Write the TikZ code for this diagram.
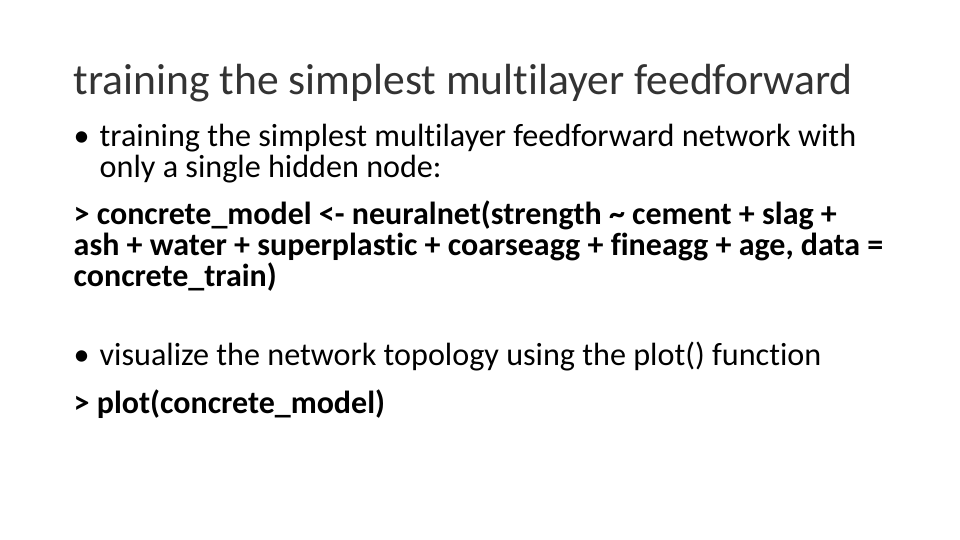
\documentclass[tikz,border=0pt]{standalone}
\usepackage{fontspec}
\setmainfont[Ligatures=NoCommon]{Carlito}
\begin{document}
\begin{tikzpicture}[x=1pt,y=-1pt,
  ln/.style={anchor=base west,inner sep=0pt,font=\fontsize{9.15pt}{11pt}\selectfont},
  bl/.style={ln,font=\fontsize{9.1pt}{11pt}\selectfont\bfseries},
  ttl/.style={anchor=base west,inner sep=0pt,font=\fontsize{12.4pt}{14pt}\selectfont,text=black!80}]
\useasboundingbox[fill=white] (0,0) rectangle (273.1,153.6);
\def\px#1{#1*0.2845}
\node[ttl] (t) at (\px{73},\px{94}) {training the simplest multilayer feedforward};
\node[ln] (b1) at (\px{73},\px{146}) {•};
\node[ln] (l1) at (\px{99},\px{146}) {training the simplest multilayer feedforward network with};
\node[ln] (l2) at (\px{99},\px{177}) {only a single hidden node:};
\node[bl] (l3) at (\px{73},\px{224}) {> concrete\_model <- neuralnet(strength \textasciitilde{} cement + slag +};
\node[bl] (l4) at (\px{73},\px{255}) {ash + water + superplastic + coarseagg + fineagg + age, data =};
\node[bl] (l5) at (\px{73},\px{286}) {concrete\_train)};
\node[ln] (b2) at (\px{73},\px{365}) {•};
\node[ln] (l6) at (\px{99},\px{365}) {visualize the network topology using the plot() function};
\node[bl] (l7) at (\px{73},\px{413}) {> plot(concrete\_model)};
\end{tikzpicture}
\end{document}
